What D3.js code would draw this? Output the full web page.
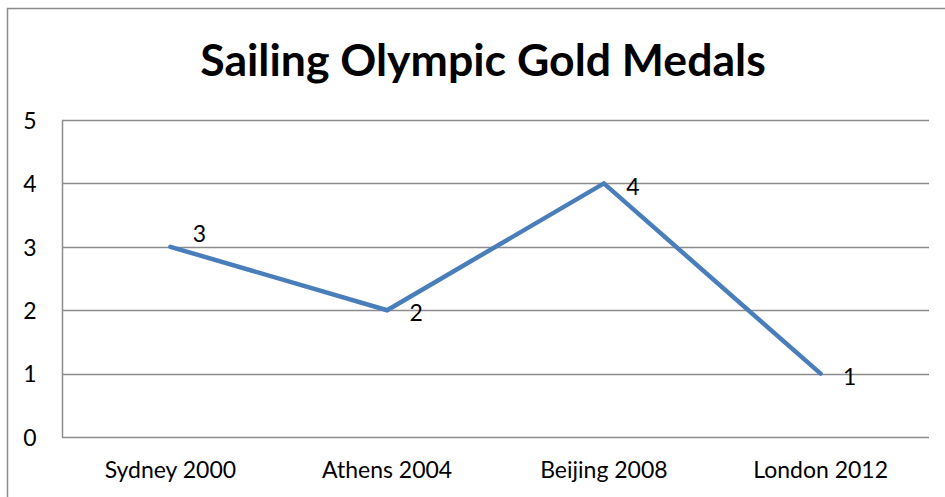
<!DOCTYPE html>
<html>
<head>
<meta charset="utf-8">
<script src="https://cdn.jsdelivr.net/npm/d3@7"></script>
<style>
  html, body { margin: 0; padding: 0; background: #fff; }
  svg { display: block; }
  text { font-family: Lato, "Open Sans", sans-serif; fill: #000; }
</style>
</head>
<body>
<svg id="chart" width="945" height="497"></svg>
<script>
// Gold medals won in Olympic sailing, per Games
const games = ["Sydney 2000", "Athens 2004", "Beijing 2008", "London 2012"];
const medals = [3, 2, 4, 1];
const yTicks = [0, 1, 2, 3, 4, 5];
const title = "Sailing Olympic Gold Medals";

const W = 945, H = 497;
const margin = { left: 62, right: 16, top: 120, bottom: 60 };
const labelSize = "23px";
const svg = d3.select("#chart");

// chart frame (left and top edges visible in the window)
svg.append("path")
  .attr("d", `M7.5,${H} V8.5 H${W}`)
  .attr("fill", "none")
  .attr("stroke", "#8c8c8c")
  .attr("stroke-width", 1.5);

const x = d3.scaleBand()
  .domain(games)
  .range([margin.left, W - margin.right]);

const y = d3.scaleLinear()
  .domain([0, 5])
  .range([H - margin.bottom, margin.top]);

// horizontal gridlines
svg.append("g")
  .selectAll("line")
  .data(yTicks)
  .join("line")
  .attr("x1", margin.left)
  .attr("x2", W - margin.right)
  .attr("y1", d => Math.round(y(d)) + 0.5)
  .attr("y2", d => Math.round(y(d)) + 0.5)
  .attr("stroke", "#8c8c8c")
  .attr("stroke-width", 1.5);

// value axis
const yAxis = svg.append("g")
  .attr("transform", `translate(${margin.left},0)`)
  .call(d3.axisLeft(y).tickValues(yTicks).tickSize(0).tickPadding(0).tickFormat(d3.format("d")));
yAxis.select(".domain")
  .attr("stroke", "#8c8c8c")
  .attr("stroke-width", 1.5);
yAxis.selectAll("text")
  .attr("x", -32)
  .attr("text-anchor", "middle")
  .attr("dy", "0.36em")
  .style("font-size", labelSize)
  .style("font-family", "Lato, 'Open Sans', sans-serif");

// category axis
const xAxis = svg.append("g")
  .attr("transform", `translate(0,${y(0)})`)
  .call(d3.axisBottom(x).tickSize(0).tickPadding(0));
xAxis.select(".domain").remove();
xAxis.selectAll("text")
  .attr("y", 33)
  .attr("dy", "0.36em")
  .style("font-size", labelSize)
  .style("font-family", "Lato, 'Open Sans', sans-serif");

// medal line
const cx = d => x(d) + x.bandwidth() / 2;
const line = d3.line()
  .x((d, i) => cx(games[i]))
  .y(d => y(d));

svg.append("path")
  .datum(medals)
  .attr("d", line)
  .attr("fill", "none")
  .attr("stroke", "#4a7ebb")
  .attr("stroke-width", 4.5)
  .attr("stroke-linejoin", "miter")
  .attr("stroke-linecap", "round");

// value labels to the right of each point
svg.append("g")
  .selectAll("text")
  .data(medals)
  .join("text")
  .attr("x", (d, i) => cx(games[i]) + 29)
  .attr("y", (d, i) => y(d) + (i === 0 ? -13 : 3))
  .attr("dy", "0.36em")
  .attr("text-anchor", "middle")
  .style("font-size", labelSize)
  .text(d => d);

// title
const t = svg.append("text")
  .attr("x", 483)
  .attr("y", 76)
  .attr("text-anchor", "middle")
  .style("font-size", "38px")
  .style("font-weight", "bold")
  .text(title);
// fit title width
const tw = t.node().getComputedTextLength();
t.style("font-size", (38 * 566 / tw).toFixed(1) + "px");
</script>
</body>
</html>
